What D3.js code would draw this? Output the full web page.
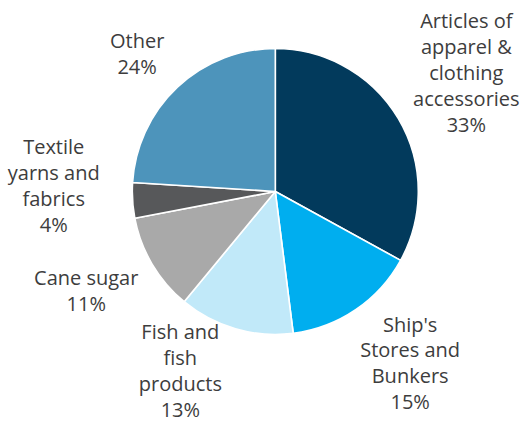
<!DOCTYPE html>
<html>
<head>
<meta charset="utf-8">
<script src="https://cdn.jsdelivr.net/npm/d3@7"></script>
<style>
  html, body { margin: 0; padding: 0; background: #fff; }
  svg { display: block; }
  text { font-family: "Open Sans", "Noto Sans", sans-serif; fill: #3d3d3d; }
</style>
</head>
<body>
<svg id="chart" width="521" height="422"></svg>
<script>
// Export composition by product group (share of total, %)
const categories = [
  ["Articles of", "apparel &", "clothing", "accessories"],
  ["Ship's", "Stores and", "Bunkers"],
  ["Fish and", "fish", "products"],
  ["Cane sugar"],
  ["Textile", "yarns and", "fabrics"],
  ["Other"]
];
const shares = [33, 15, 13, 11, 4, 24];
const colors = ["#023a5c", "#00aeef", "#c1e9f9", "#a9a9a9", "#57585a", "#4d94bb"];

// Label placement: offsets from the point on each slice's mid-angle ray
const labelRadius = 215;
const labelNudge = [[6, -9], [14, -6], [-35, -27], [-4, -10], [-7, -19], [9, 19]];
const lineHeight = 25.8;

const svg = d3.select("#chart");
const cx = 275.3, cy = 191.5, radius = 143;

const g = svg.append("g").attr("transform", `translate(${cx},${cy})`);

const pie = d3.pie().sort(null).value(d => d);
const arcs = pie(shares);

const arc = d3.arc().innerRadius(0).outerRadius(radius);
const labelArc = d3.arc().innerRadius(labelRadius).outerRadius(labelRadius);

g.selectAll("path.slice")
  .data(arcs)
  .join("path")
  .attr("class", "slice")
  .attr("d", arc)
  .attr("fill", (d, i) => colors[i])
  .attr("stroke", "#fff")
  .attr("stroke-width", 1.6)
  .attr("stroke-linejoin", "round");

g.selectAll("text.label")
  .data(arcs)
  .join("text")
  .attr("class", "label")
  .attr("text-anchor", "middle")
  .attr("font-size", 20)
  .each(function (d, i) {
    const [x0, y0] = labelArc.centroid(d);
    const x = x0 + labelNudge[i][0];
    const yc = y0 + labelNudge[i][1];
    const lines = categories[i].concat([d.data + "%"]);
    const n = lines.length;
    d3.select(this).selectAll("tspan")
      .data(lines)
      .join("tspan")
      .attr("x", x)
      .attr("y", (t, k) => yc + (k - (n - 1) / 2) * lineHeight)
      .attr("dy", "0.35em")
      .text(t => t);
  });
</script>
</body>
</html>
